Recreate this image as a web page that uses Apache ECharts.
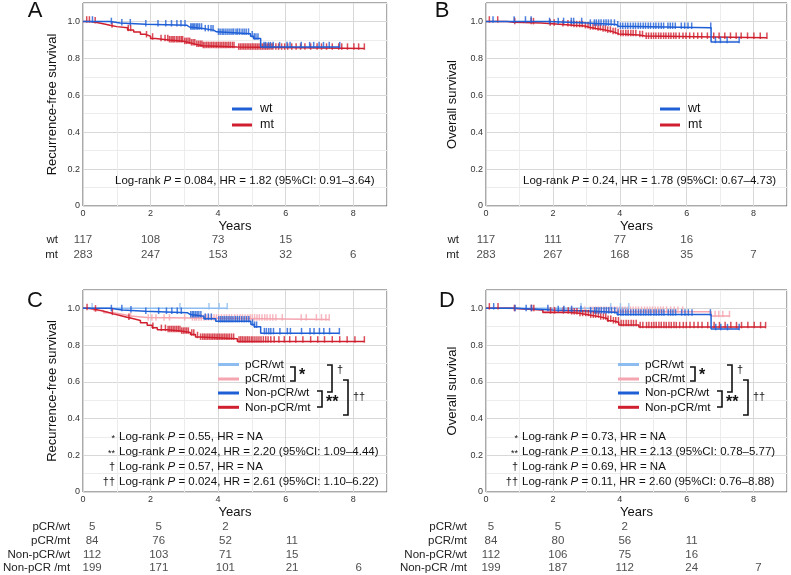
<!DOCTYPE html>
<html><head><meta charset="utf-8">
<script src="https://cdn.jsdelivr.net/npm/echarts@6/dist/echarts.min.js"></script>
<style>html,body{margin:0;padding:0;background:#fff}#main{width:791px;height:575px}</style>
</head><body><div id="main"></div>
<script>
// ---------------- DATA ----------------
// Panel A (Recurrence-free survival, wt vs mt)
const A_wt_t = [0.81, 1.10, 1.86, 3.08, 3.15, 3.55, 3.87, 3.95, 4.96, 5.05, 5.26];
const A_wt_s = [0.992, 0.985, 0.979, 0.970, 0.962, 0.953, 0.944, 0.934, 0.920, 0.908, 0.861];
const A_wt_end = 7.60;
const A_wt_cens = [0.28, 0.84, 1.15, 1.40, 1.86, 2.22, 2.45, 2.62, 2.78, 2.90, 3.02, 3.19, 3.23, 3.27, 3.31, 3.36, 3.40, 3.45, 3.51, 3.62, 3.71, 3.79, 3.85, 4.01, 4.06, 4.12, 4.17, 4.23, 4.29, 4.35, 4.41, 4.46, 4.53, 4.58, 4.64, 4.71, 4.77, 4.83, 4.90, 5.01, 5.07, 5.12, 5.18, 5.36, 5.41, 5.49, 5.55, 5.63, 5.82, 6.04, 6.13, 6.46, 6.71, 6.83, 6.99, 7.12, 7.29, 7.60];
const A_mt_t = [0.20, 0.37, 0.56, 0.80, 1.00, 1.32, 1.50, 1.70, 1.85, 2.00, 2.15, 2.54, 2.98, 3.18, 3.33, 3.55, 4.57];
const A_mt_s = [0.996, 0.989, 0.979, 0.972, 0.966, 0.954, 0.943, 0.930, 0.920, 0.908, 0.899, 0.893, 0.884, 0.876, 0.868, 0.862, 0.853];
const A_mt_end = 8.33;
const A_mt_cens = [0.11, 0.19, 0.36, 0.86, 1.34, 1.41, 1.88, 2.06, 2.31, 2.43, 2.51, 2.56, 2.61, 2.66, 2.70, 2.76, 2.81, 2.86, 2.91, 2.95, 3.01, 3.06, 3.11, 3.16, 3.21, 3.26, 3.31, 3.37, 3.42, 3.47, 3.52, 3.56, 3.61, 3.66, 3.71, 3.76, 3.81, 3.86, 3.91, 3.96, 4.01, 4.06, 4.11, 4.16, 4.21, 4.26, 4.31, 4.36, 4.42, 4.47, 4.61, 4.66, 4.71, 4.76, 4.81, 4.86, 4.91, 4.96, 5.01, 5.06, 5.11, 5.16, 5.21, 5.26, 5.31, 5.36, 5.41, 5.46, 5.51, 5.57, 5.62, 5.71, 5.79, 5.88, 5.97, 6.06, 6.18, 6.31, 6.44, 6.57, 6.74, 6.93, 7.06, 7.21, 7.38, 7.57, 7.66, 7.83, 8.02, 8.16, 8.33];

// Panel B (Overall survival, wt vs mt)
const B_wt_t = [1.85, 3.05, 3.90, 3.97, 6.73];
const B_wt_s = [0.992, 0.983, 0.974, 0.966, 0.889];
const B_wt_end = 7.57;
const B_wt_cens = [0.21, 0.84, 1.18, 1.35, 1.90, 2.16, 2.32, 2.55, 2.62, 2.86, 3.12, 3.24, 3.30, 3.37, 3.44, 3.52, 3.59, 3.66, 3.74, 3.84, 3.94, 4.02, 4.09, 4.17, 4.24, 4.32, 4.40, 4.47, 4.55, 4.62, 4.70, 4.77, 4.85, 4.92, 5.01, 5.08, 5.16, 5.24, 5.31, 5.44, 5.51, 5.58, 5.66, 5.84, 5.94, 6.04, 6.15, 6.72, 6.86, 7.01, 7.21, 7.57];
const B_mt_t = [0.62, 0.82, 1.66, 2.30, 2.60, 2.95, 3.09, 3.28, 3.48, 3.62, 3.78, 3.90, 3.97, 4.57, 4.76];
const B_mt_s = [0.996, 0.991, 0.984, 0.979, 0.975, 0.969, 0.962, 0.957, 0.951, 0.945, 0.938, 0.932, 0.926, 0.921, 0.912];
const B_mt_end = 8.40;
const B_mt_cens = [0.10, 0.35, 0.86, 1.35, 1.42, 1.92, 2.04, 2.30, 2.45, 2.55, 2.63, 2.71, 2.80, 2.88, 2.97, 3.05, 3.12, 3.20, 3.27, 3.35, 3.42, 3.50, 3.57, 3.64, 3.72, 3.80, 3.87, 3.95, 4.03, 4.10, 4.18, 4.25, 4.33, 4.40, 4.48, 4.60, 4.68, 4.79, 4.86, 4.94, 5.01, 5.08, 5.16, 5.23, 5.31, 5.38, 5.46, 5.53, 5.61, 5.68, 5.78, 5.89, 5.98, 6.09, 6.21, 6.33, 6.45, 6.62, 6.81, 6.97, 7.14, 7.31, 7.48, 7.63, 7.82, 8.01, 8.20, 8.40];

// Panel C (Recurrence-free survival, 4 groups)
const C_pw_t = [], C_pw_s = [], C_pw_end = 4.27;
const C_pw_cens = [0.27, 2.87, 3.73, 4.03, 4.27];
const C_pm_t = [0.32, 0.61, 0.90, 1.20, 1.40, 1.90];
const C_pm_s = [0.988, 0.976, 0.967, 0.958, 0.950, 0.940];
const C_pm_end = 7.29;
const C_pm_cens = [1.41, 1.93, 2.04, 2.16, 2.40, 2.56, 3.01, 3.24, 3.31, 3.36, 3.43, 3.50, 3.58, 3.65, 3.72, 3.80, 3.88, 3.95, 4.02, 4.10, 4.18, 4.25, 4.33, 4.40, 4.49, 4.57, 4.65, 4.72, 4.80, 4.88, 4.95, 5.01, 5.08, 5.15, 5.22, 5.30, 5.38, 5.45, 5.54, 5.62, 5.71, 5.90, 6.46, 6.61, 6.91, 7.06, 7.19, 7.29];
const C_nw_t = [0.81, 1.16, 1.85, 3.10, 3.18, 3.58, 3.93, 4.97, 5.07, 5.26];
const C_nw_s = [0.991, 0.984, 0.976, 0.966, 0.957, 0.944, 0.930, 0.912, 0.900, 0.865];
const C_nw_end = 7.59;
const C_nw_cens = [0.84, 1.15, 1.42, 1.86, 2.24, 2.47, 2.63, 2.79, 2.91, 3.19, 3.24, 3.28, 3.33, 3.38, 3.43, 3.49, 3.62, 3.71, 3.80, 4.02, 4.08, 4.14, 4.20, 4.26, 4.32, 4.38, 4.44, 4.51, 4.57, 4.63, 4.70, 4.77, 4.84, 4.91, 5.02, 5.08, 5.14, 5.37, 5.43, 5.50, 5.56, 5.64, 5.83, 6.05, 6.14, 6.47, 6.72, 6.84, 7.00, 7.13, 7.30, 7.59];
const C_nm_t = [0.12, 0.32, 0.50, 0.71, 0.90, 1.10, 1.30, 1.50, 1.70, 1.90, 2.05, 2.20, 2.49, 2.89, 3.18, 3.33, 3.45, 4.57];
const C_nm_s = [0.996, 0.989, 0.980, 0.970, 0.961, 0.952, 0.943, 0.934, 0.922, 0.908, 0.894, 0.883, 0.877, 0.868, 0.857, 0.844, 0.835, 0.820];
const C_nm_end = 8.33;
const C_nm_cens = [0.12, 0.37, 0.87, 1.36, 2.07, 2.32, 2.44, 2.52, 2.57, 2.62, 2.67, 2.72, 2.77, 2.82, 2.87, 2.92, 2.97, 3.02, 3.07, 3.12, 3.22, 3.28, 3.39, 3.48, 3.54, 3.59, 3.64, 3.69, 3.74, 3.79, 3.84, 3.89, 3.94, 3.99, 4.04, 4.09, 4.14, 4.19, 4.24, 4.29, 4.34, 4.40, 4.46, 4.62, 4.67, 4.72, 4.77, 4.82, 4.87, 4.92, 4.98, 5.03, 5.09, 5.15, 5.21, 5.27, 5.34, 5.41, 5.48, 5.56, 5.66, 5.80, 5.96, 6.12, 6.30, 6.51, 6.74, 6.95, 7.15, 7.38, 7.60, 7.82, 8.05, 8.33];

// Panel D (Overall survival, 4 groups)
const D_pw_t = [], D_pw_s = [], D_pw_end = 4.27;
const D_pw_cens = [2.84, 3.73, 4.02, 4.27];
const D_pm_t = [0.62, 1.70, 6.73];
const D_pm_s = [0.993, 0.982, 0.958];
const D_pm_end = 7.28;
const D_pm_cens = [1.35, 1.86, 2.03, 2.32, 2.56, 2.95, 3.12, 3.20, 3.28, 3.36, 3.44, 3.52, 3.60, 3.68, 3.76, 3.84, 3.92, 4.00, 4.08, 4.16, 4.24, 4.32, 4.40, 4.48, 4.56, 4.65, 4.74, 4.82, 4.90, 4.98, 5.06, 5.14, 5.22, 5.30, 5.40, 5.52, 5.63, 5.74, 5.88, 6.85, 6.96, 7.08, 7.28];
const D_nw_t = [0.87, 2.00, 3.09, 3.92, 6.73];
const D_nw_s = [0.991, 0.986, 0.978, 0.967, 0.887];
const D_nw_end = 7.57;
const D_nw_cens = [0.23, 0.87, 1.20, 1.36, 1.85, 2.16, 2.33, 2.56, 2.84, 3.13, 3.25, 3.31, 3.38, 3.45, 3.53, 3.60, 3.67, 3.75, 3.85, 3.95, 4.03, 4.10, 4.18, 4.25, 4.33, 4.41, 4.48, 4.56, 4.63, 4.71, 4.78, 4.86, 4.93, 5.02, 5.09, 5.17, 5.25, 5.32, 5.45, 5.52, 5.59, 5.67, 5.85, 5.95, 6.05, 6.16, 6.71, 6.87, 7.02, 7.22, 7.57];
const D_nm_t = [0.82, 1.70, 2.50, 2.79, 3.09, 3.38, 3.63, 3.78, 3.97, 4.57];
const D_nm_s = [0.991, 0.978, 0.973, 0.964, 0.955, 0.945, 0.933, 0.924, 0.909, 0.898];
const D_nm_end = 8.36;
const D_nm_cens = [0.10, 0.36, 0.85, 1.36, 1.43, 1.93, 2.05, 2.31, 2.46, 2.56, 2.64, 2.72, 2.81, 2.89, 2.98, 3.06, 3.13, 3.21, 3.28, 3.36, 3.43, 3.51, 3.58, 3.65, 3.73, 3.81, 3.88, 3.96, 4.04, 4.11, 4.19, 4.26, 4.34, 4.41, 4.49, 4.61, 4.69, 4.80, 4.87, 4.95, 5.02, 5.09, 5.17, 5.24, 5.32, 5.39, 5.47, 5.54, 5.62, 5.69, 5.79, 5.90, 5.99, 6.10, 6.22, 6.34, 6.46, 6.63, 6.82, 6.98, 7.15, 7.32, 7.49, 7.64, 7.83, 8.02, 8.21, 8.36];

// Numbers at risk
const riskTimes = [0, 2, 4, 6, 8];
const riskRowsAB = ['wt', 'mt'];
const riskA_wt = [117, 108, 73, 15, null];
const riskA_mt = [283, 247, 153, 32, 6];
const riskB_wt = [117, 111, 77, 16, null];
const riskB_mt = [283, 267, 168, 35, 7];
const riskRowsCD = ['pCR/wt', 'pCR/mt', 'Non-pCR/wt', 'Non-pCR /mt'];
const riskC_pw = [5, 5, 2, null, null];
const riskC_pm = [84, 76, 52, 11, null];
const riskC_nw = [112, 103, 71, 15, null];
const riskC_nm = [199, 171, 101, 21, 6];
const riskD_pw = [5, 5, 2, null, null];
const riskD_pm = [84, 80, 56, 11, null];
const riskD_nw = [112, 106, 75, 16, null];
const riskD_nm = [199, 187, 112, 24, 7];

// Axis tick values
const xTickLabels = [0, 2, 4, 6, 8];
const yTickLabels = [0, 0.2, 0.4, 0.6, 0.8, 1.0];

// Texts
const statA = ['Log-rank ', 'P', ' = 0.084, HR = 1.82 (95%CI: 0.91–3.64)'];
const statB = ['Log-rank ', 'P', ' = 0.24, HR = 1.78 (95%CI: 0.67–4.73)'];
const statSymbols = ['*', '**', '†', '††'];
const statC = [' = 0.55, HR = NA', ' = 0.024, HR = 2.20 (95%CI: 1.09–4.44)', ' = 0.57, HR = NA', ' = 0.024, HR = 2.61 (95%CI: 1.10–6.22)'];
const statD = [' = 0.73, HR = NA', ' = 0.13, HR = 2.13 (95%CI: 0.78–5.77)', ' = 0.69, HR = NA', ' = 0.11, HR = 2.60 (95%CI: 0.76–8.88)'];

// ---------------- STYLE / LAYOUT ----------------
const FONT = '"Liberation Sans", Arial, Helvetica, sans-serif';
const COL = {wt: '#1f5fd6', mt: '#d01f2e', pw: '#8dbdf0', pm: '#f5a5b0'};
const plotGrids = [
  {left: 83, top: 3, width: 304, height: 203},
  {left: 486, top: 3, width: 301, height: 203},
  {left: 83, top: 290, width: 304, height: 202},
  {left: 486, top: 290, width: 301, height: 202}
];
const tableGrids = [
  {left: 83, top: 233, width: 304, height: 29},
  {left: 486, top: 233, width: 301, height: 29},
  {left: 83, top: 520, width: 304, height: 55},
  {left: 486, top: 520, width: 301, height: 55}
];

function survAt(ts, ss, t) { let v = 1; for (let i = 0; i < ts.length; i++) { if (ts[i] <= t) v = ss[i]; } return v; }
function stepData(ts, ss, end) {
  const d = [[0, 1]];
  for (let i = 0; i < ts.length; i++) d.push([ts[i], ss[i]]);
  d.push([end, ts.length ? ss[ss.length - 1] : 1]);
  return d;
}
function cens(ts, ss, cs) { return cs.map(t => [t, survAt(ts, ss, t)]); }

const curves = [
  [0, A_mt_t, A_mt_s, A_mt_end, A_mt_cens, COL.mt, 1.5, 2],
  [0, A_wt_t, A_wt_s, A_wt_end, A_wt_cens, COL.wt, 1.5, 3],
  [1, B_mt_t, B_mt_s, B_mt_end, B_mt_cens, COL.mt, 1.5, 2],
  [1, B_wt_t, B_wt_s, B_wt_end, B_wt_cens, COL.wt, 1.5, 3],
  [2, C_pm_t, C_pm_s, C_pm_end, C_pm_cens, COL.pm, 1.5, 2],
  [2, C_pw_t, C_pw_s, C_pw_end, C_pw_cens, COL.pw, 1.5, 2],
  [2, C_nm_t, C_nm_s, C_nm_end, C_nm_cens, COL.mt, 1.5, 3],
  [2, C_nw_t, C_nw_s, C_nw_end, C_nw_cens, COL.wt, 1.5, 3],
  [3, D_pm_t, D_pm_s, D_pm_end, D_pm_cens, COL.pm, 1.5, 2],
  [3, D_pw_t, D_pw_s, D_pw_end, D_pw_cens, COL.pw, 1.5, 2],
  [3, D_nm_t, D_nm_s, D_nm_end, D_nm_cens, COL.mt, 1.5, 3],
  [3, D_nw_t, D_nw_s, D_nw_end, D_nw_cens, COL.wt, 1.5, 3]
];

const grid = [], xAxis = [], yAxis = [], series = [];
const yNames = ['Recurrence-free survival', 'Overall survival', 'Recurrence-free survival', 'Overall survival'];
plotGrids.forEach((g, i) => {
  grid.push(Object.assign({show: true, borderColor: '#555', borderWidth: 1, containLabel: false, z: 0}, g));
  xAxis.push({
    gridIndex: i, type: 'value', min: 0, max: 9, interval: 1, z: 0,
    name: 'Years', nameLocation: 'middle', nameGap: 14,
    nameTextStyle: {fontSize: 13, color: '#111', fontFamily: FONT},
    axisLine: {show: false}, axisTick: {show: false},
    axisLabel: {fontSize: 9, color: '#333', margin: 3, fontFamily: FONT,
      formatter: v => (xTickLabels.indexOf(Math.round(v)) >= 0 ? String(Math.round(v)) : '')},
    splitLine: {show: true, lineStyle: {color: ['#d8d8d8', '#ececec'], width: 1}}
  });
  yAxis.push({
    gridIndex: i, type: 'value', min: 0, max: 1.1, interval: 0.1, z: 0,
    name: yNames[i], nameLocation: 'middle', nameGap: (i % 2 === 0) ? 24 : 27,
    nameTextStyle: {fontSize: 13, color: '#111', fontFamily: FONT},
    axisLine: {show: false}, axisTick: {show: false},
    axisLabel: {fontSize: 9, color: '#333', margin: 3, fontFamily: FONT,
      formatter: v => { const r = Math.round(v * 10); const hit = yTickLabels.some(y => Math.round(y * 10) === r); if (!hit) return ''; return r === 0 ? '0' : (r / 10).toFixed(1); }},
    splitLine: {show: true, lineStyle: {color: ['#d8d8d8', '#ececec'], width: 1}}
  });
});
tableGrids.forEach((g, i) => {
  grid.push(Object.assign({show: false}, g));
  xAxis.push({gridIndex: 4 + i, type: 'value', min: 0, max: 9, show: false});
  yAxis.push({
    gridIndex: 4 + i, type: 'category', inverse: true,
    data: i < 2 ? riskRowsAB : riskRowsCD,
    axisLine: {show: false}, axisTick: {show: false}, splitLine: {show: false},
    axisLabel: {interval: 0, fontSize: 11.5, color: '#222', fontFamily: FONT,
      margin: i === 0 ? 25 : i === 1 ? 27 : i === 2 ? 17 : 19}
  });
});

curves.forEach(c => {
  const [p, t, s, end, cs, color, w, z] = c;
  series.push({type: 'line', xAxisIndex: p, yAxisIndex: p, step: 'end', showSymbol: false, symbol: 'none',
    data: stepData(t, s, end), lineStyle: {color, width: w}, itemStyle: {color}, z, silent: true, animation: false});
  series.push({type: 'scatter', xAxisIndex: p, yAxisIndex: p, symbol: 'rect', symbolSize: [1.5, 6.5], symbolOffset: [0, -2],
    data: cens(t, s, cs), itemStyle: {color}, z, silent: true, animation: false});
});

const riskSets = [
  [0, riskRowsAB, [riskA_wt, riskA_mt], 0],
  [1, riskRowsAB, [riskB_wt, riskB_mt], 0],
  [2, riskRowsCD, [riskC_pw, riskC_pm, riskC_nw, riskC_nm], 5],
  [3, riskRowsCD, [riskD_pw, riskD_pm, riskD_nw, riskD_nm], 5]
];
riskSets.forEach(([i, rows, vals, off]) => {
  const data = [];
  vals.forEach((arr, r) => arr.forEach((v, j) => { if (v != null) data.push([riskTimes[j], rows[r], v]); }));
  series.push({type: 'scatter', xAxisIndex: 4 + i, yAxisIndex: 4 + i, symbolSize: 1,
    itemStyle: {color: 'rgba(0,0,0,0)'}, data, silent: true, animation: false,
    label: {show: true, position: 'inside', offset: [off, 0], formatter: p => String(p.value[2]),
      fontSize: 11.5, color: '#222', fontFamily: FONT}});
});

// ---------------- GRAPHIC ANNOTATIONS ----------------
const graphic = [];
function T(x, y, text, o) {
  graphic.push({type: 'text', x, y, z: 100, silent: true, style: Object.assign({text, fill: '#111', fontSize: 12, fontFamily: FONT, align: 'left', verticalAlign: 'middle'}, o || {})});
}
function L(x1, y1, x2, y2, color, w) {
  graphic.push({type: 'line', z: 100, silent: true, shape: {x1, y1, x2, y2}, style: {stroke: color, lineWidth: w}});
}
function bracket(x, y1, y2) {
  graphic.push({type: 'polyline', z: 100, silent: true, shape: {points: [[x - 5, y1], [x, y1], [x, y2], [x - 5, y2]]}, style: {stroke: '#111', lineWidth: 1.6, fill: null}});
}
function richStat(x, y, parts, size) {
  graphic.push({type: 'text', x, y, z: 100, silent: true, style: {
    text: '{n|' + parts[0] + '}{i|' + parts[1] + '}{n|' + parts[2] + '}',
    verticalAlign: 'middle', align: 'left',
    rich: {n: {fontSize: size, fontFamily: FONT, fill: '#111'}, i: {fontSize: size, fontFamily: FONT, fontStyle: 'italic', fill: '#111'}}
  }});
}
T(35, 11, 'A', {fontSize: 22, align: 'center'});
T(442, 11, 'B', {fontSize: 22, align: 'center'});
T(35, 301, 'C', {fontSize: 22, align: 'center'});
T(447, 301, 'D', {fontSize: 22, align: 'center'});
[[232, 260], [660, 688]].forEach(([lx, tx]) => {
  L(lx, 109, lx + 20, 109, COL.wt, 3); T(tx, 109, 'wt', {fontSize: 12.5});
  L(lx, 125, lx + 20, 125, COL.mt, 3); T(tx, 125, 'mt', {fontSize: 12.5});
});
richStat(115, 181, statA, 11.5);
richStat(523, 181, statB, 11.5);
const legRows = [[364.5, 'pCR/wt', COL.pw], [379, 'pCR/mt', COL.pm], [393, 'Non-pCR/wt', COL.wt], [407.3, 'Non-pCR/mt', COL.mt]];
[0, 400].forEach(dx => {
  legRows.forEach(([y, name, c]) => { L(218 + dx, y, 239 + dx, y, c, 3); T(245 + dx, y, name, {fontSize: 11.8}); });
  bracket(295 + dx, 367, 381); T(299 + dx, 376, '*', {fontSize: 16, fontWeight: 'bold'});
  bracket(322 + dx, 391, 407); T(326 + dx, 403, '**', {fontSize: 16, fontWeight: 'bold'});
  bracket(332 + dx, 365, 392); T(337 + dx, 370, '†', {fontSize: 11});
  bracket(348 + dx, 380, 415); T(353 + dx, 397, '††', {fontSize: 11});
});
const statY = [437, 452, 467, 482];
[[119, statC], [522, statD]].forEach(([x, lines]) => {
  lines.forEach((s, k) => {
    const sym = statSymbols[k];
    const small = sym.indexOf('*') >= 0;
    T(x - 4, statY[k] + (small ? 2 : 0), sym, {fontSize: small ? 9 : 11, align: 'right'});
    richStat(x, statY[k], ['Log-rank ', 'P', s], 11.5);
  });
});

const chart = echarts.init(document.getElementById('main'), null, {renderer: 'canvas', width: 791, height: 575});
chart.setOption({
  animation: false,
  backgroundColor: '#fff',
  textStyle: {fontFamily: FONT},
  grid, xAxis, yAxis, series, graphic
});
</script></body></html>
